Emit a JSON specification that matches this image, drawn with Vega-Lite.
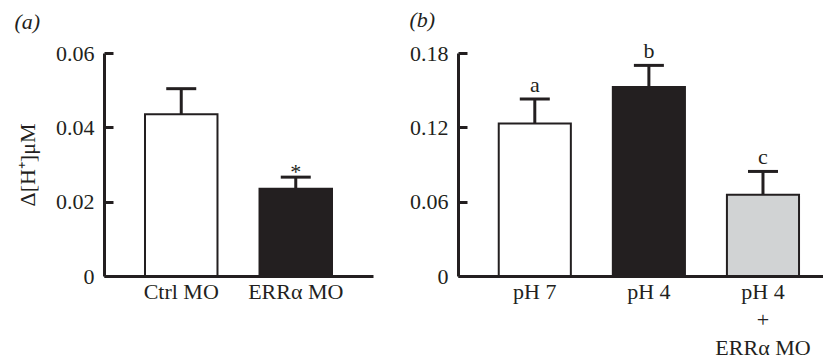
{
  "$schema": "https://vega.github.io/schema/vega-lite/v6.json",
  "padding": {"left": 14, "top": 9, "right": 0, "bottom": 0},
  "background": "#ffffff",
  "datasets": {
    "a": [
      {"group": "Ctrl MO", "value": 0.0435, "err": 0.0504, "sig": ""},
      {"group": "ERRα MO", "value": 0.0235, "err": 0.0266, "sig": "*"}
    ],
    "b": [
      {"group": "pH 7", "value": 0.1231, "err": 0.1429, "sig": "a"},
      {"group": "pH 4", "value": 0.1526, "err": 0.170, "sig": "b"},
      {"group": "pH 4|+|ERRα MO", "value": 0.0655, "err": 0.0844, "sig": "c"}
    ]
  },
  "config": {
    "font": "Liberation Serif",
    "view": {"stroke": null},
    "concat": {"spacing": 85},
    "axis": {
      "domainColor": "#231f20", "domainWidth": 3, "tickColor": "#231f20", "tickWidth": 3,
      "labelFont": "Liberation Serif", "labelFontSize": 22, "labelColor": "#231f20",
      "titleFont": "Liberation Serif", "titleFontSize": 22, "titleFontWeight": "normal", "titleColor": "#231f20",
      "grid": false
    },
    "title": {"font": "Liberation Serif", "fontSize": 22, "fontWeight": "normal", "fontStyle": "italic", "color": "#231f20", "anchor": "start", "frame": "bounds"}
  },
  "resolve": {"scale": {"color": "independent"}},
  "bounds": "flush",
  "hconcat": [
    {
      "width": 269, "height": 223,
      "title": {"text": "(a)", "dx": -2, "offset": 8},
      "data": {"name": "a"},
      "encoding": {
        "x": {"field": "group", "type": "nominal", "sort": null,
              "scale": {"paddingInner": 0.367, "paddingOuter": 0.358, "align": 0.5},
              "axis": {"title": null, "labelAngle": 0, "ticks": false, "labelPadding": 5, "labelLineHeight": 28, "labelExpr": "split(datum.label, '|')"}}
      },
      "layer": [
        {"mark": {"type": "rule", "color": "#231f20", "strokeWidth": 3, "opacity": 1},
         "encoding": {"y": {"field": "value", "type": "quantitative"}, "y2": {"field": "err"}}},
        {"mark": {"type": "tick", "color": "#231f20", "thickness": 3, "size": 30, "orient": "horizontal", "opacity": 1},
         "encoding": {"y": {"field": "err", "type": "quantitative"}}},
        {"mark": {"type": "bar", "stroke": "#231f20", "strokeWidth": 2, "opacity": 1},
         "encoding": {
           "y": {"field": "value", "type": "quantitative",
                 "scale": {"domain": [0, 0.06], "nice": false},
                 "axis": {"title": "Δ[H⁺]μM", "values": [0, 0.02, 0.04, 0.06], "format": "~g", "tickSize": -9, "labelPadding": 19, "titlePadding": 16}},
           "color": {"field": "group", "type": "nominal", "scale": {"domain": ["Ctrl MO", "ERRα MO"], "range": ["#ffffff", "#231f20"]}, "legend": null}
         }},
        {"mark": {"type": "text", "fontSize": 22, "dy": 2, "baseline": "alphabetic", "color": "#231f20"},
         "encoding": {"y": {"field": "err", "type": "quantitative"}, "text": {"field": "sig"}}}
      ]
    },
    {
      "width": 366, "height": 223,
      "title": {"text": "(b)", "dx": 0, "offset": 8},
      "data": {"name": "b"},
      "encoding": {
        "x": {"field": "group", "type": "nominal", "sort": null,
              "scale": {"paddingInner": 0.368, "paddingOuter": 0.288, "align": 0.62},
              "axis": {"title": null, "labelAngle": 0, "ticks": false, "labelPadding": 5, "labelLineHeight": 28, "labelExpr": "split(datum.label, '|')"}}
      },
      "layer": [
        {"mark": {"type": "rule", "color": "#231f20", "strokeWidth": 3, "opacity": 1},
         "encoding": {"y": {"field": "value", "type": "quantitative"}, "y2": {"field": "err"}}},
        {"mark": {"type": "tick", "color": "#231f20", "thickness": 3, "size": 30, "orient": "horizontal", "opacity": 1},
         "encoding": {"y": {"field": "err", "type": "quantitative"}}},
        {"mark": {"type": "bar", "stroke": "#231f20", "strokeWidth": 2, "opacity": 1},
         "encoding": {
           "y": {"field": "value", "type": "quantitative",
                 "scale": {"domain": [0, 0.18], "nice": false},
                 "axis": {"title": null, "values": [0, 0.06, 0.12, 0.18], "format": "~g", "tickSize": -9, "labelPadding": 19}},
           "color": {"field": "group", "type": "nominal", "scale": {"domain": ["pH 7", "pH 4", "pH 4|+|ERRα MO"], "range": ["#ffffff", "#231f20", "#d1d3d4"]}, "legend": null}
         }},
        {"mark": {"type": "text", "fontSize": 22, "dy": -7, "baseline": "alphabetic", "color": "#231f20"},
         "encoding": {"y": {"field": "err", "type": "quantitative"}, "text": {"field": "sig"}}}
      ]
    }
  ]
}
